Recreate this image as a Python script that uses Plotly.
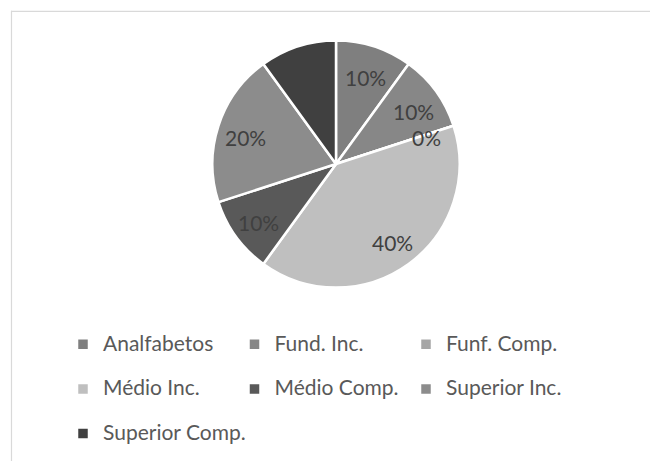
import math
import plotly.graph_objects as go

categories = ["Analfabetos", "Fund. Inc.", "Funf. Comp.", "Médio Inc.",
              "Médio Comp.", "Superior Inc.", "Superior Comp."]
values = [10, 10, 0, 40, 10, 20, 10]
colors = ["#7f7f7f", "#878787", "#a6a6a6", "#bfbfbf", "#595959", "#8c8c8c", "#404040"]

W, H = 650, 461
FONT = "Lato"

# legend labels: small text inside a taller legend line to get the row pitch
legend_labels = [
    f"<span style='font-size:21px;baseline-shift:6px'>{c}</span>" for c in categories
]

cx, cy, r = 336, 166.5, 125.5
fig = go.Figure(go.Pie(
    labels=legend_labels,
    values=values,
    sort=False,
    direction="clockwise",
    rotation=0,
    marker=dict(colors=colors, line=dict(color="white", width=2.5)),
    textinfo="none",
    hoverinfo="label+percent",
    domain=dict(x=[(cx - r) / W, (cx + r) / W], y=[1 - (cy + r) / H, 1 - (cy - r) / H]),
    showlegend=True,
))

# data labels placed at the middle angle of each slice (derived from values)
total = sum(values)
annotations = []
cum = 0
for v in values:
    mid = (cum + v / 2) / total * 2 * math.pi
    cum += v
    lr = 0.76 * r
    x = cx + lr * math.sin(mid)
    y = cy - lr * math.cos(mid) + 3
    annotations.append(dict(
        x=x / W, y=1 - y / H, xref="paper", yref="paper",
        text=f"{round(v / total * 100)}%", showarrow=False,
        font=dict(family=FONT, size=21, color="#404040"),
        xanchor="center", yanchor="middle",
    ))

fig.update_layout(
    width=W, height=H,
    margin=dict(l=0, r=0, t=0, b=0),
    paper_bgcolor="white",
    plot_bgcolor="white",
    font=dict(family=FONT, color="#595959"),
    legend=dict(
        orientation="h",
        x=63 / W, xanchor="left",
        y=1 - 322 / H, yanchor="top",
        font=dict(family=FONT, size=32, color="#595959"),
        entrywidth=126.5, entrywidthmode="pixels",
        itemwidth=30,
        traceorder="normal",
        bgcolor="rgba(0,0,0,0)",
    ),
    annotations=annotations,
    shapes=[
        dict(type="line", xref="paper", yref="paper", x0=11 / W, x1=1.05,
             y0=1 - 11.5 / H, y1=1 - 11.5 / H, line=dict(color="#d9d9d9", width=1.2)),
        dict(type="line", xref="paper", yref="paper", x0=11.5 / W, x1=11.5 / W,
             y0=1 - 11 / H, y1=-0.05, line=dict(color="#d9d9d9", width=1.2)),
    ],
)

fig.write_html("out.html")
